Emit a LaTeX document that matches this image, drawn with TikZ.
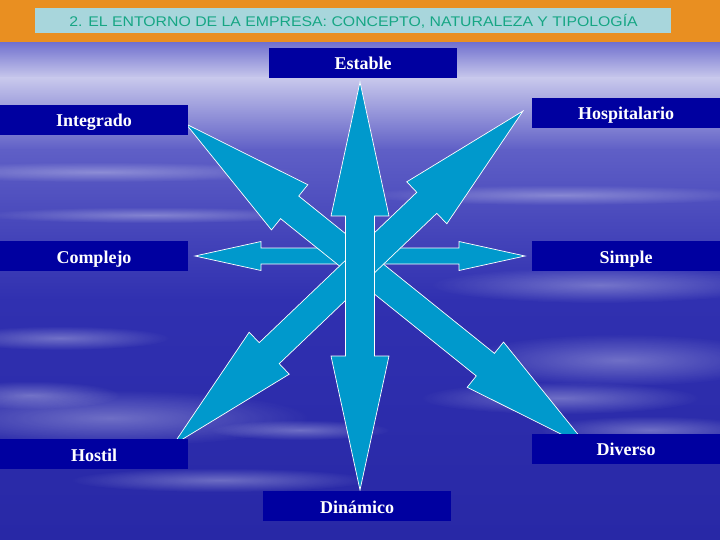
\documentclass[tikz,border=0pt]{standalone}
\usepackage{fontspec}
\setmainfont{Liberation Serif}
\newfontfamily\titlefont{Liberation Sans}
\usetikzlibrary{calc,fadings}
\definecolor{hdrorange}{RGB}{233,143,33}
\definecolor{titlebg}{RGB}{168,214,220}
\definecolor{titletxt}{RGB}{22,166,132}
\definecolor{boxblue}{RGB}{0,0,160}
\definecolor{arrowcyan}{RGB}{0,153,204}
\definecolor{skytop}{RGB}{112,112,206}
\definecolor{skylight}{RGB}{200,200,236}
\definecolor{skymid}{RGB}{95,95,198}
\definecolor{skylow}{RGB}{48,48,176}
\definecolor{skybot}{RGB}{40,40,166}
\tikzfading[name=softcloud,inner color=transparent!30,outer color=transparent!100]
\tikzset{
  lbl/.style={fill=boxblue,text=white,font=\fontsize{18}{20}\selectfont\bfseries,
    minimum width=188pt,minimum height=30pt,inner sep=0pt,text height=14pt,text depth=0pt},
  arrowbody/.style={fill=arrowcyan,draw=white,line width=0.7pt,line join=miter},
  skycloud/.style={fill=white,opacity=0.45,path fading=softcloud}
}
% double arrow: tips #1,#2; shaft half width #3; head half width #4; head length #5
\newcommand\dblarrow[5]{%
  \filldraw[arrowbody] (#1)
    -- ($(#1)!#5!(#2)!#4!90:(#1)$) -- ($(#1)!#5!(#2)!#3!90:(#1)$)
    -- ($(#2)!#5!(#1)!#3!-90:(#2)$) -- ($(#2)!#5!(#1)!#4!-90:(#2)$)
    -- (#2)
    -- ($(#2)!#5!(#1)!#4!90:(#2)$) -- ($(#2)!#5!(#1)!#3!90:(#2)$)
    -- ($(#1)!#5!(#2)!#3!-90:(#1)$) -- ($(#1)!#5!(#2)!#4!-90:(#1)$)
    -- cycle;}
\begin{document}
\begin{tikzpicture}[x=1pt,y=-1pt,line join=round]
  \useasboundingbox (0,0) rectangle (720,540);
  % sky
  \shade[top color=skytop,bottom color=skylight] (0,42) rectangle (720,78);
  \shade[top color=skylight,bottom color=skymid] (0,78) rectangle (720,150);
  \shade[top color=skymid,bottom color=skylow] (0,150) rectangle (720,300);
  \shade[top color=skylow,bottom color=skybot] (0,300) rectangle (720,540);
  \foreach \cx/\cy/\rx/\ry in {100/172/200/10,560/195/200/10,150/215/170/8,60/338/110/12,
      30/395/90/14,110/418/200/28,600/285/170/18,620/360/160/26,560/398/140/16,
      650/430/110/14,220/480/150/12,300/430/90/10}
    \path[skycloud] (\cx,\cy) ellipse ({\rx} and {\ry});
  % header
  \fill[hdrorange] (0,0) rectangle (720,42);
  \fill[titlebg] (35,8) rectangle (671,33);
  \node[text=titletxt,font=\titlefont\fontsize{14}{16}\selectfont] (title) at (353.5,21)
    {\scalebox{1.13}[1]{2. EL ENTORNO DE LA EMPRESA: CONCEPTO, NATURALEZA Y TIPOLOGÍA}};
  % arrow tips
  \coordinate (tN) at (360,82);  \coordinate (tS) at (360,490);
  \coordinate (tW) at (195,256); \coordinate (tE) at (525,256);
  \coordinate (tNW) at (186,124); \coordinate (tSE) at (589,448);
  \coordinate (tNE) at (523,111); \coordinate (tSW) at (173,445);
  \dblarrow{tW}{tE}{8pt}{14.5pt}{66pt}
  \dblarrow{tNW}{tSE}{14.5pt}{29pt}{133pt}
  \dblarrow{tNE}{tSW}{14.5pt}{29pt}{133pt}
  \dblarrow{tN}{tS}{14.5pt}{29pt}{134pt}
  % labels
  \foreach \n/\x/\y/\t in {estable/363/63/Estable,integrado/94/120/Integrado,
      hospitalario/626/113/Hospitalario,complejo/94/256/Complejo,simple/626/256/Simple,
      hostil/94/454/Hostil,diverso/626/448.5/Diverso,dinamico/357/506/Dinámico}
    \node[lbl] (\n) at (\x,\y) {\t};
\end{tikzpicture}
\end{document}
